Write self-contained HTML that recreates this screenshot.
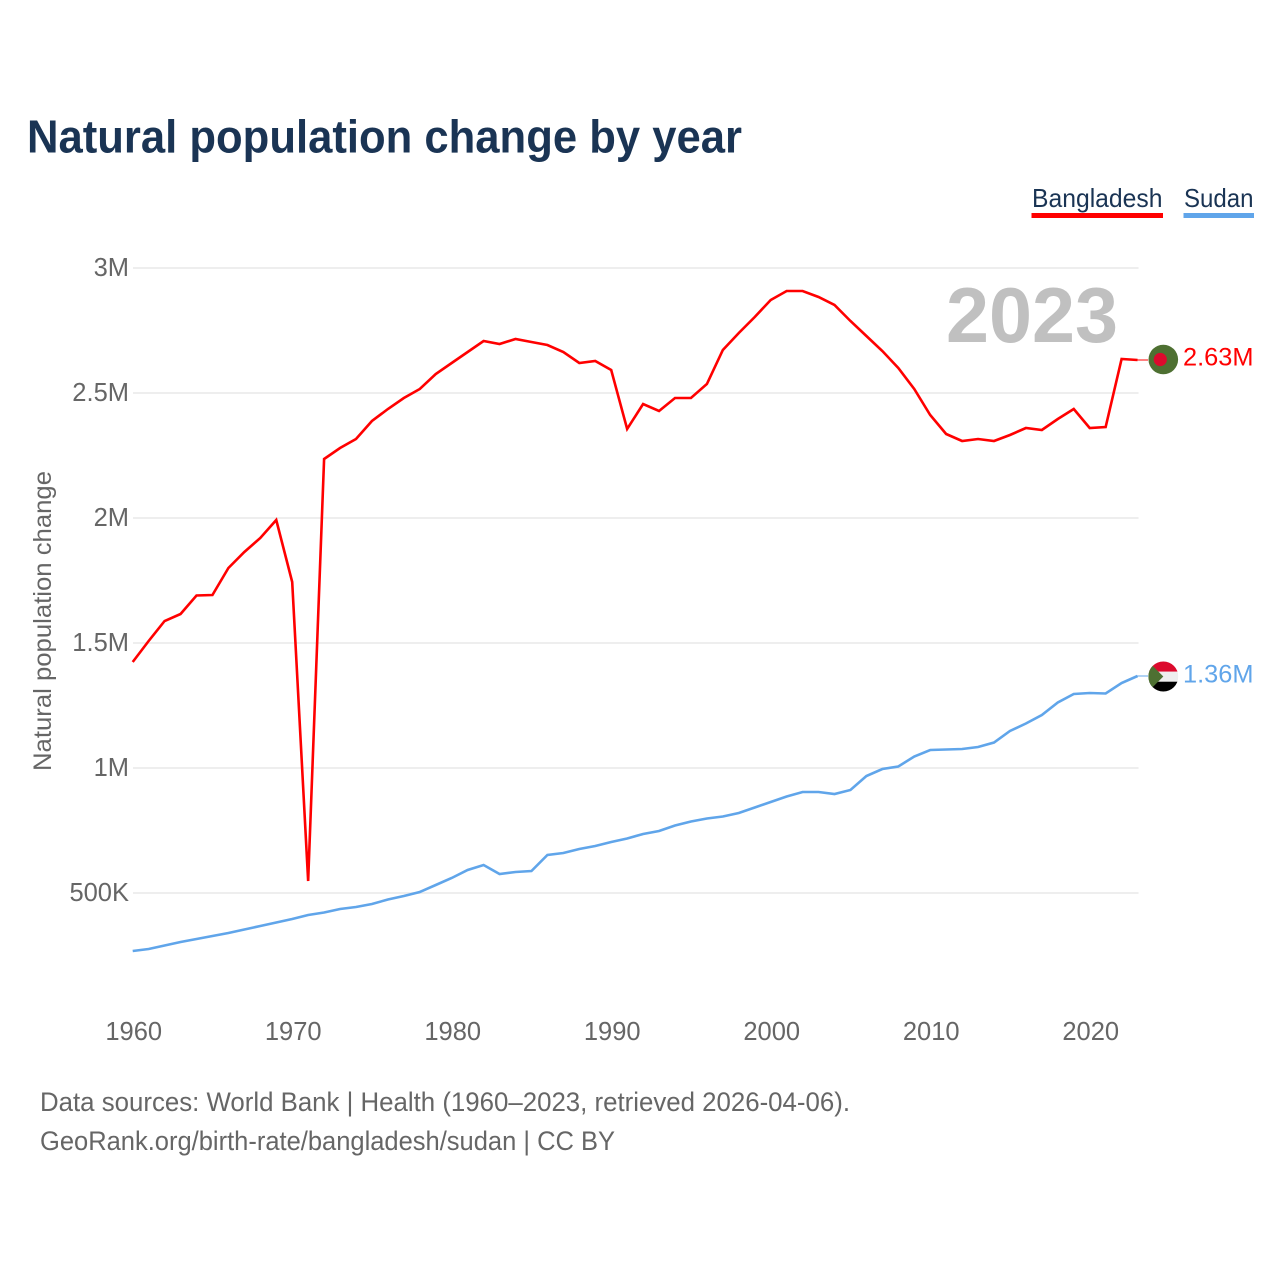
<!DOCTYPE html>
<html lang="en">
<head>
<meta charset="utf-8">
<title>Natural population change by year</title>
<style>
html,body{margin:0;padding:0;background:#fff;width:1280px;height:1280px;overflow:hidden}
svg{display:block}
text{font-family:"Liberation Sans",sans-serif}
</style>
</head>
<body>
<svg id="chart" xmlns="http://www.w3.org/2000/svg" width="1280" height="1280" viewBox="0 0 1280 1280">
<rect width="1280" height="1280" fill="#fff"/>
<text x="27" y="152.5" font-size="46" font-weight="700" fill="#1a3454" textLength="715" lengthAdjust="spacingAndGlyphs">Natural population change by year</text>
<g style="cursor:pointer">
<text x="1032" y="207" font-size="26" fill="#1a3454" textLength="130.5" lengthAdjust="spacingAndGlyphs">Bangladesh</text>
<rect x="1031.5" y="213" width="131.5" height="5" fill="#ff0000"/>
</g>
<g style="cursor:pointer">
<text x="1184" y="207" font-size="26" fill="#1a3454" textLength="69.5" lengthAdjust="spacingAndGlyphs">Sudan</text>
<rect x="1183.5" y="213" width="70.5" height="5" fill="#60a5ea"/>
</g>
<g id="grid"></g>
<g id="yticks"></g>
<g id="xticks"></g>
<text transform="translate(51,621) rotate(-90)" text-anchor="middle" font-size="25" fill="#666" textLength="300" lengthAdjust="spacingAndGlyphs">Natural population change</text>
<text x="946" y="342" font-size="78" font-weight="700" fill="#c0c0c0" textLength="172" lengthAdjust="spacingAndGlyphs">2023</text>
<g id="series"></g>
<defs>
<clipPath id="sudan-clip"><circle cx="0" cy="0" r="15"/></clipPath>
</defs>
<g id="flag-bd">
<circle cx="0" cy="0" r="14.8" fill="#4e7032"/>
<circle cx="-3" cy="0" r="6.6" fill="#dc0a2d"/>
</g>
<g id="flag-sd" clip-path="url(#sudan-clip)">
<rect x="-15" y="-15" width="30" height="10.2" fill="#dc0a2d"/>
<rect x="-15" y="-4.8" width="30" height="10" fill="#eeeeee"/>
<rect x="-15" y="5.2" width="30" height="10" fill="#000"/>
<polygon points="-15,-15 0,0 -15,15" fill="#4e7032"/>
</g>
<text id="end-label-bd" x="1183" font-size="25" fill="#ff0000" textLength="70.5" lengthAdjust="spacingAndGlyphs"></text>
<text id="end-label-sd" x="1183" font-size="25" fill="#60a5ea" textLength="70.5" lengthAdjust="spacingAndGlyphs"></text>
<text x="40" y="1111" font-size="27" fill="#666" textLength="810" lengthAdjust="spacingAndGlyphs">Data sources: World Bank | Health (1960–2023, retrieved 2026-04-06).</text>
<text x="40" y="1150" font-size="27" fill="#666" textLength="575" lengthAdjust="spacingAndGlyphs">GeoRank.org/birth-rate/bangladesh/sudan | CC BY</text>
</svg>
<script>
const startYear = 1960;
const bangladesh = [1.424,1.508,1.588,1.616,1.690,1.692,1.800,1.864,1.920,1.992,1.744,0.548,2.236,2.280,2.316,2.388,2.436,2.480,2.516,2.576,2.620,2.664,2.708,2.696,2.716,2.704,2.692,2.664,2.620,2.628,2.592,2.356,2.456,2.428,2.480,2.480,2.536,2.672,2.740,2.804,2.872,2.908,2.908,2.884,2.852,2.788,2.728,2.668,2.600,2.516,2.412,2.336,2.308,2.316,2.308,2.332,2.360,2.352,2.396,2.436,2.360,2.364,2.636,2.632];
const sudan = [0.268,0.276,0.290,0.304,0.316,0.328,0.340,0.354,0.368,0.382,0.396,0.412,0.422,0.436,0.444,0.456,0.474,0.488,0.504,0.532,0.560,0.592,0.612,0.576,0.584,0.588,0.652,0.660,0.676,0.688,0.704,0.718,0.736,0.748,0.770,0.786,0.798,0.806,0.820,0.842,0.864,0.886,0.904,0.904,0.896,0.912,0.968,0.996,1.006,1.046,1.072,1.074,1.076,1.084,1.102,1.148,1.178,1.212,1.262,1.296,1.300,1.298,1.340,1.368];
const yTickValues = [0.5,1,1.5,2,2.5,3];
const yTickLabels = ["500K","1M","1.5M","2M","2.5M","3M"];
const xTickYears = [1960,1970,1980,1990,2000,2010,2020];
const endLabels = ["2.63M","1.36M"];

const NS = "http://www.w3.org/2000/svg";
function xScale(year){ return 132.7 + (year - 1960) * 15.95; }
function yScale(v){ return 1018 - v * 250; }
function make(tag, parent, attrs){
  const el = document.createElementNS(NS, tag);
  for (const k in attrs) el.setAttribute(k, attrs[k]);
  parent.appendChild(el);
  return el;
}
const grid = document.getElementById("grid");
const yticks = document.getElementById("yticks");
const xticks = document.getElementById("xticks");
const seriesGroup = document.getElementById("series");

yTickValues.forEach(function(v, i){
  const line = make("line", grid, {x1:133, x2:1138.5, y1:yScale(v), y2:yScale(v), stroke:"#eeeeee", "stroke-width":2});
  
  
  const t = make("text", yticks, {x:129, y:yScale(v)+8, "text-anchor":"end", "font-size":25.5, fill:"#666"});
  
  
  t.textContent = yTickLabels[i];
});
xTickYears.forEach(function(yr){
  const t = make("text", xticks, {x:xScale(yr)+1, y:1040, "text-anchor":"middle", "font-size":25.5, fill:"#666"});
  
  
  t.textContent = yr;
});
function pathFor(values){
  return values.map(function(v, i){
    return (i ? "L" : "M") + xScale(startYear + i).toFixed(2) + " " + yScale(v).toFixed(2);
  }).join("");
}
function drawSeries(values, color, flagId, labelId, labelText, flagDy, labelDy){
  const path = make("path", seriesGroup, {d:pathFor(values), fill:"none", stroke:color, "stroke-width":2.6, "stroke-linejoin":"miter"});
  
  
  const lastY = yScale(values[values.length - 1]);
  const lastX = xScale(startYear + values.length - 1);
  const lead = make("line", seriesGroup, {x1:lastX, x2:1148, y1:lastY, y2:lastY, stroke:color, "stroke-width":1});
  
  
  document.getElementById(flagId).setAttribute("transform", "translate(1163.3," + (lastY + flagDy) + ")");
  const label = document.getElementById(labelId);
  label.setAttribute("y", lastY + labelDy);
  label.textContent = labelText;
}
drawSeries(sudan, "#60a5ea", "flag-sd", "end-label-sd", endLabels[1], 0.5, 6.5);
drawSeries(bangladesh, "#ff0000", "flag-bd", "end-label-bd", endLabels[0], -0.5, 5.5);
</script>
</body>
</html>
